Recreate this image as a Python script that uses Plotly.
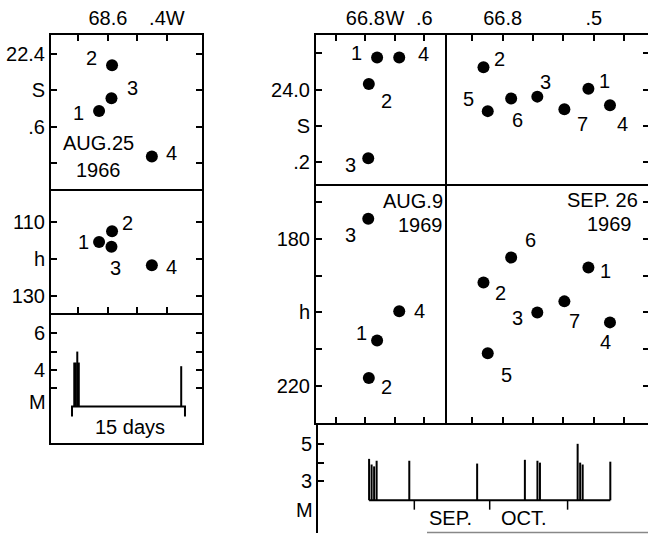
import plotly.graph_objects as go

W, H = 648, 534

# ---------------- DATA ----------------
# Aug 25 1966 sequence (left figure)
ev66_id = ["1", "2", "3", "4"]
ev66_lon = [68.63, 68.586, 68.588, 68.451]      # deg W
ev66_lat = [22.557, 22.432, 22.522, 22.681]     # deg S
ev66_dep = [115.3, 112.4, 116.6, 121.6]         # km

# Aug 9 1969 sequence
evA_id = ["1", "2", "3", "4"]
evA_lon = [66.76, 66.788, 66.79, 66.685]
evA_lat = [23.911, 23.984, 24.189, 23.911]
evA_dep = [207.6, 217.8, 174.6, 199.7]

# Sep 26 1969 sequence
evB_id = ["1", "2", "3", "4", "5", "6", "7"]
evB_lon = [66.518, 66.863, 66.686, 66.447, 66.849, 66.772, 66.597]
evB_lat = [23.997, 23.938, 24.019, 24.043, 24.059, 24.024, 24.054]
evB_dep = [187.8, 191.9, 200.0, 202.7, 211.1, 185.1, 197.0]

# magnitude-time records
m66_day = [0.3, 0.5, 0.7, 0.9, 14.5]
m66_mag = [4.4, 4.4, 5.0, 4.4, 4.2]
m66_span = [0, 15]

m69_date = ["1969-08-14", "1969-08-15", "1969-08-16", "1969-08-17", "1969-08-30",
            "1969-09-26", "1969-10-15", "1969-10-20", "1969-10-21",
            "1969-11-05", "1969-11-06", "1969-11-07", "1969-11-18"]
m69_mag = [4.2, 3.9, 3.8, 4.1, 4.1, 3.95, 4.15, 4.1, 4.0, 5.0, 4.0, 3.9, 4.05]
m69_months = ["1969-09-01", "1969-10-01", "1969-11-01"]
m_base = 2.0

# tick labels
lon66_ticks = [68.7, 68.6, 68.5, 68.4]
lon66_text = ["", "68.6", "", ".4W"]
lat66_ticks = [22.4, 22.5, 22.6, 22.7]
lat66_text = ["22.4", "S", ".6", ""]
dep66_ticks = [110, 120, 130]
dep66_text = ["110", "h", "130"]
mag66_ticks = [3, 4, 5, 6]
mag66_text = ["", "4", "", "6"]

lonA_ticks = [66.9, 66.8, 66.7, 66.6]
lonA_text = ["", "66.8", "W", ".6"]
lonB_ticks = [66.9, 66.8, 66.7, 66.6, 66.5, 66.4]
lonB_text = ["", "66.8", "", "", ".5", ""]
lat69_ticks = [23.9, 24.0, 24.1, 24.2]
lat69_text = ["", "24.0", "S", ".2"]
dep69_ticks = [170, 180, 190, 200, 210, 220]
dep69_text = ["", "180", "", "h", "", "220"]
mag69_ticks = [3, 4, 5]
mag69_text = ["3", "", "5"]

# ---------------- LAYOUT HELPERS ----------------
FONT = "Liberation Sans"
FS = 20
LW = 2


def dx(a, b):
    return [a / W, b / W]


def dy(top, bot):
    return [1 - bot / H, 1 - top / H]


base_axis = dict(showline=True, linecolor="black", linewidth=LW, showgrid=False,
                 zeroline=False, ticks="inside", ticklen=6, tickwidth=2,
                 tickcolor="black", tickfont=dict(family=FONT, size=FS, color="black"),
                 fixedrange=True, automargin=False, tickangle=0)


def ax(**kw):
    d = dict(base_axis)
    d.update(kw)
    return d


fig = go.Figure()

# label offsets (pixels) for each event number in each panel
off_66S = {"1": (-21, -2), "2": (-21, 7), "3": (21, 10), "4": (20, 3)}
off_66h = {"1": (-16, 0), "2": (15, 8), "3": (4, -21), "4": (20, -2)}
off_AS = {"1": (-21, 4), "2": (18, -17), "3": (-18, -7), "4": (24, 3)}
off_Ah = {"1": (-16, 7), "2": (18, -9), "3": (-18, -16), "4": (20, 0)}
off_BS = {"1": (16, 8), "2": (16, 8), "3": (8, 15), "4": (13, -19),
          "5": (-19, 12), "6": (6, -22), "7": (18, -15)}
off_Bh = {"1": (17, -4), "2": (17, -10), "3": (-20, -6), "4": (-4, -20),
          "5": (19, -22), "6": (19, 18), "7": (10, -20)}

annotations = []


def add_points(xs, ys, ids, offs, xa, ya):
    fig.add_trace(go.Scatter(x=xs, y=ys, mode="markers", xaxis=xa, yaxis=ya,
                             marker=dict(size=12, color="black"),
                             showlegend=False, hoverinfo="skip"))
    for x, y, t in zip(xs, ys, ids):
        ox, oy = offs[t]
        annotations.append(dict(x=x, y=y, xref=xa, yref=ya, text=t, showarrow=False,
                                xshift=ox, yshift=oy,
                                font=dict(family=FONT, size=FS, color="black")))


add_points(ev66_lon, ev66_lat, ev66_id, off_66S, "x", "y")
add_points(ev66_lon, ev66_dep, ev66_id, off_66h, "x2", "y2")
add_points(evA_lon, evA_lat, evA_id, off_AS, "x4", "y4")
add_points(evB_lon, evB_lat, evB_id, off_BS, "x5", "y5")
add_points(evA_lon, evA_dep, evA_id, off_Ah, "x6", "y6")
add_points(evB_lon, evB_dep, evB_id, off_Bh, "x7", "y7")


def spikes(xs, ms):
    X, Y = [], []
    for x, m in zip(xs, ms):
        X += [x, x, None]
        Y += [m_base, m, None]
    return X, Y


# 1966 magnitude panel
X, Y = spikes(m66_day, m66_mag)
fig.add_trace(go.Scatter(x=X, y=Y, mode="lines", xaxis="x3", yaxis="y3",
                         line=dict(color="black", width=2), showlegend=False, hoverinfo="skip"))
fig.add_trace(go.Scatter(x=[m66_span[0], m66_span[0], m66_span[1], m66_span[1]],
                         y=[m_base - 0.55, m_base, m_base, m_base - 0.55],
                         mode="lines", xaxis="x3", yaxis="y3",
                         line=dict(color="black", width=2), showlegend=False, hoverinfo="skip"))

# 1969 magnitude panel
X, Y = spikes(m69_date, m69_mag)
fig.add_trace(go.Scatter(x=X, y=Y, mode="lines", xaxis="x8", yaxis="y8",
                         line=dict(color="black", width=2), showlegend=False, hoverinfo="skip"))
fig.add_trace(go.Scatter(x=[m69_date[0], m69_date[-1]], y=[m_base, m_base],
                         mode="lines", xaxis="x8", yaxis="y8",
                         line=dict(color="black", width=2), showlegend=False, hoverinfo="skip"))
X, Y = [], []
for d in m69_months:
    X += [d, d, None]
    Y += [m_base, m_base - 0.5, None]
fig.add_trace(go.Scatter(x=X, y=Y, mode="lines", xaxis="x8", yaxis="y8",
                         line=dict(color="black", width=1.5), showlegend=False, hoverinfo="skip"))


# text annotations
def txt(x, y, t, size=FS, xanchor="center"):
    annotations.append(dict(x=x / W, y=1 - y / H, xref="paper", yref="paper", text=t,
                            showarrow=False, xanchor=xanchor, yanchor="middle",
                            font=dict(family=FONT, size=size, color="black")))


txt(98, 143, "AUG.25")
txt(98, 170, "1966")
txt(445, 201, "AUG.9", xanchor="right")
txt(445, 225, "1969", xanchor="right")
txt(640, 200, "SEP. 26", xanchor="right")
txt(634, 224, "1969", xanchor="right")
txt(130, 427, "15 days")
txt(450, 518, "SEP.")
txt(524, 518, "OCT.")
txt(37, 402, "M")
txt(304, 510, "M")

L66 = (51, 202)
LA = (316, 445)
LB = (447, 648)

layout = dict(
    width=W, height=H, margin=dict(l=0, r=0, t=0, b=0, autoexpand=False),
    paper_bgcolor="white", plot_bgcolor="white", showlegend=False,
    xaxis=ax(domain=dx(*L66), range=[68.793, 68.281], side="top", anchor="y",
             tickvals=lon66_ticks, ticktext=lon66_text, mirror=True),
    yaxis=ax(domain=dy(35, 189), range=[22.77, 22.349], anchor="x",
             tickvals=lat66_ticks, ticktext=lat66_text, mirror="ticks"),
    xaxis2=ax(domain=dx(*L66), range=[68.793, 68.281], side="bottom", anchor="y2",
              tickvals=lon66_ticks, showticklabels=False, mirror=True),
    yaxis2=ax(domain=dy(189 + LW, 313), range=[134.5, 101.5], anchor="x2",
              tickvals=dep66_ticks, ticktext=dep66_text, mirror="ticks"),
    xaxis3=ax(domain=dx(*L66), range=[-2.79, 17.26], anchor="y3", ticks="",
              showticklabels=False, mirror=True),
    yaxis3=ax(domain=dy(313 + LW, 443), range=[0, 7], anchor="x3",
              tickvals=mag66_ticks, ticktext=mag66_text, mirror="ticks"),
    xaxis4=ax(domain=dx(*LA), range=[66.967, 66.53], side="top", anchor="y4",
              tickvals=lonA_ticks, ticktext=lonA_text, mirror=True),
    yaxis4=ax(domain=dy(35, 184), range=[24.26, 23.849], anchor="x4",
              tickvals=lat69_ticks, ticktext=lat69_text, mirror=True),
    xaxis5=ax(domain=dx(*LB), range=[66.983, 66.322], side="top", anchor="y5",
              tickvals=lonB_ticks, ticktext=lonB_text, mirror=True),
    yaxis5=ax(domain=dy(35, 184), range=[24.26, 23.849], anchor="x5", side="right",
              tickvals=lat69_ticks, showticklabels=False, showline=False, ticklen=5),
    xaxis6=ax(domain=dx(*LA), range=[66.967, 66.53], side="bottom", anchor="y6",
              tickvals=lonA_ticks, showticklabels=False, mirror=True),
    yaxis6=ax(domain=dy(184 + LW, 423), range=[230, 165.7], anchor="x6",
              tickvals=dep69_ticks, ticktext=dep69_text, mirror=True),
    xaxis7=ax(domain=dx(*LB), range=[66.983, 66.322], side="bottom", anchor="y7",
              tickvals=lonB_ticks, showticklabels=False, mirror=True),
    yaxis7=ax(domain=dy(184 + LW, 423), range=[230, 165.7], anchor="x7", side="right",
              tickvals=dep69_ticks, showticklabels=False, showline=False, ticklen=5),
    xaxis8=ax(domain=dx(318, 648), type="date",
              range=["1969-07-24 16:00", "1969-12-03"], anchor="y8",
              ticks="", showticklabels=False, showline=False),
    yaxis8=ax(domain=dy(423 + LW, 533), range=[0.26, 6], anchor="x8",
              tickvals=mag69_ticks, ticktext=mag69_text),
    annotations=annotations,
    shapes=[dict(type="line", xref="paper", yref="paper", x0=427 / W, x1=1,
                 y0=1 - 532.5 / H, y1=1 - 532.5 / H, line=dict(color="#888", width=1.5))],
)
fig.update_layout(**layout)
fig.write_html("out.html", config={"displayModeBar": False},
               post_script="document.body.style.margin='0';document.body.style.padding='0';")
